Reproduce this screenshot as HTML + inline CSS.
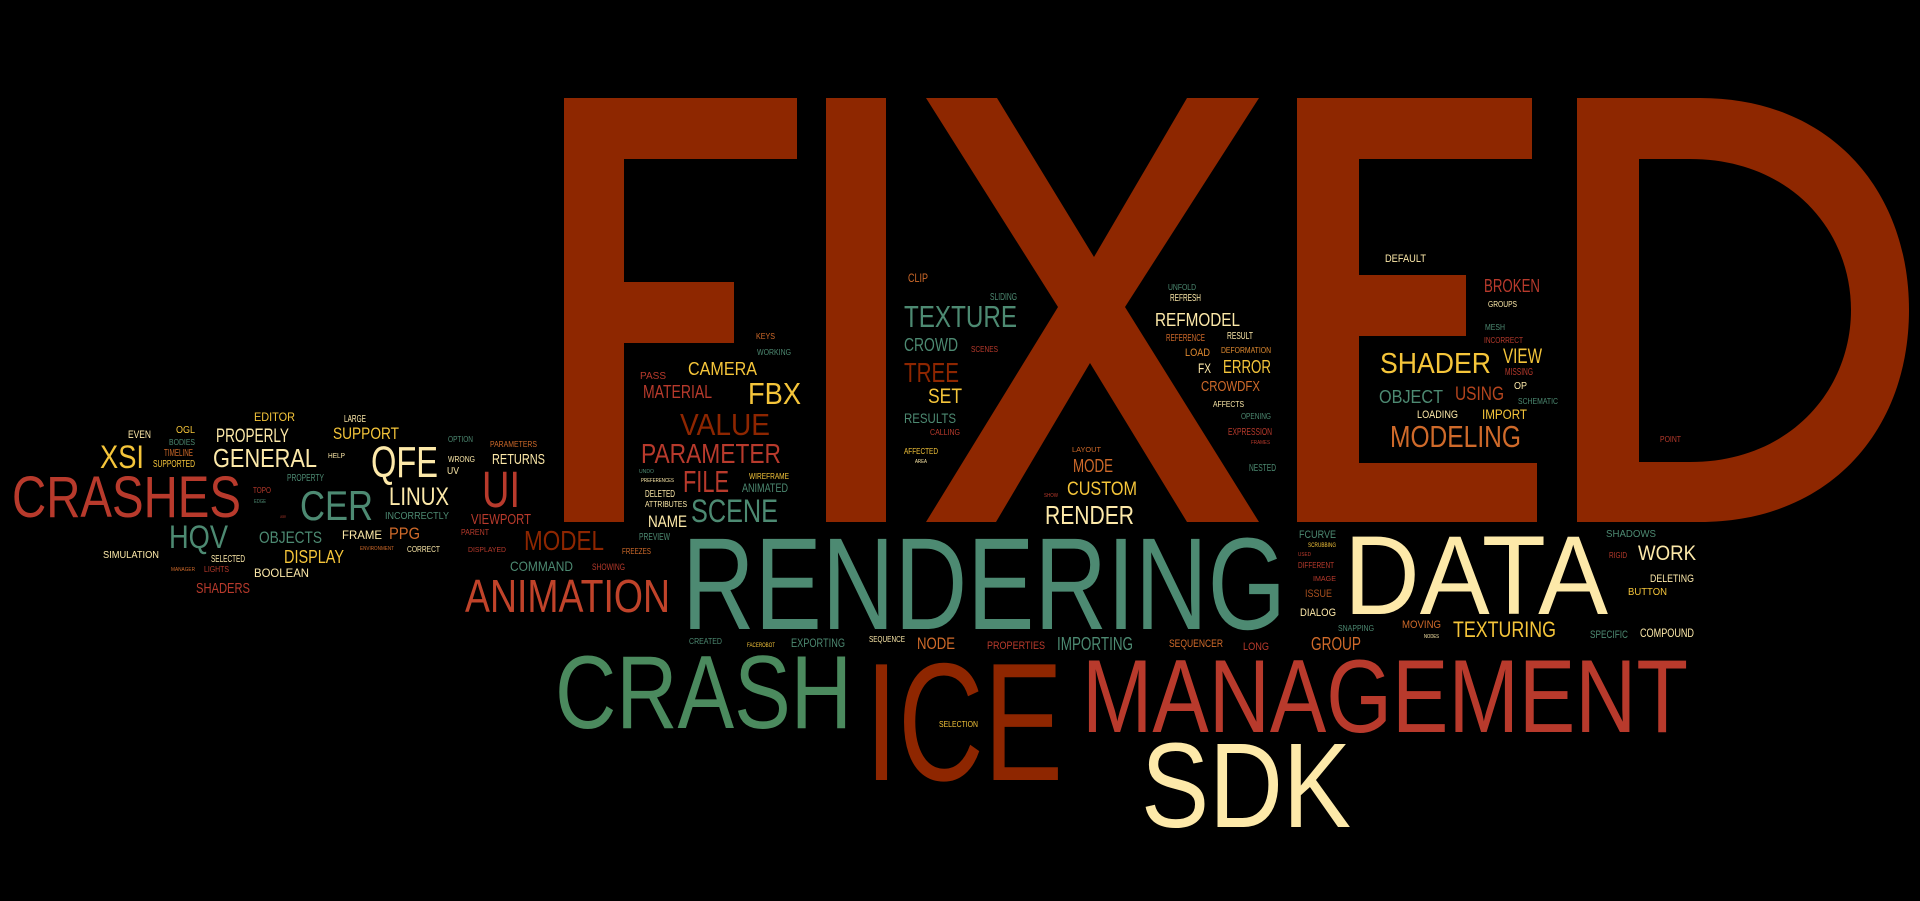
<!DOCTYPE html>
<html><head><meta charset="utf-8"><style>
html,body{margin:0;padding:0;background:#000;width:1920px;height:901px;overflow:hidden}
svg{display:block}
text{font-family:"Liberation Sans",sans-serif;}
</style></head><body>
<svg width="1920" height="901" viewBox="0 0 1920 901" xmlns="http://www.w3.org/2000/svg">
<rect width="1920" height="901" fill="#000"/>
<g fill="#8e2700">
<path d="M564,98 H797 V159 H624 V282 H734 V343 H624 V522 H564 Z"/>
<rect x="826" y="98" width="60" height="424"/>
<path d="M926,98 H997 L1094,257 L1187,98 H1259 L1125,307 L1259,522 H1187 L1090,363 L996,522 H926 L1058,307 Z"/>
<path d="M1297,98 H1532 V159 H1359 V275 H1466 V336 H1359 V463 H1537 V522 H1297 Z"/>
<path fill-rule="evenodd" d="M1577,98 H1700 C1830,98 1909,190 1909,310 C1909,430 1830,522 1700,522 H1577 Z M1639,159 H1690 C1790,159 1851,230 1851,310 C1851,390 1790,462 1690,462 H1639 Z"/>
</g>
<g lengthAdjust="spacingAndGlyphs">
<text x="682" y="629" font-size="131" textLength="604" lengthAdjust="spacingAndGlyphs" fill="#4d8a72">RENDERING</text>
<text x="1344" y="614" font-size="112" textLength="264" lengthAdjust="spacingAndGlyphs" fill="#fde9a9">DATA</text>
<text x="555" y="728" font-size="104" textLength="297" lengthAdjust="spacingAndGlyphs" fill="#4b8a5e">CRASH</text>
<text x="865" y="780" font-size="168" textLength="198" lengthAdjust="spacingAndGlyphs" fill="#8e2600">ICE</text>
<text x="1082" y="732" font-size="104" textLength="606" lengthAdjust="spacingAndGlyphs" fill="#b83a2c">MANAGEMENT</text>
<text x="1141" y="827" font-size="121" textLength="210" lengthAdjust="spacingAndGlyphs" fill="#fde9a9">SDK</text>
<text x="465" y="612" font-size="46" textLength="205" lengthAdjust="spacingAndGlyphs" fill="#c0432a">ANIMATION</text>
<text x="524" y="550" font-size="28" textLength="80" lengthAdjust="spacingAndGlyphs" fill="#8e2600">MODEL</text>
<text x="510" y="571" font-size="14" textLength="63" lengthAdjust="spacingAndGlyphs" fill="#4d8a72">COMMAND</text>
<text x="592" y="570" font-size="9" textLength="33" lengthAdjust="spacingAndGlyphs" fill="#b83a2c">SHOWING</text>
<text x="622" y="554" font-size="8" textLength="29" lengthAdjust="spacingAndGlyphs" fill="#cf6a2a">FREEZES</text>
<text x="639" y="540" font-size="10" textLength="31" lengthAdjust="spacingAndGlyphs" fill="#4d8a72">PREVIEW</text>
<text x="689" y="644" font-size="8" textLength="33" lengthAdjust="spacingAndGlyphs" fill="#4d8a72">CREATED</text>
<text x="747" y="647" font-size="6" textLength="28" lengthAdjust="spacingAndGlyphs" fill="#f5c53a">FACEROBOT</text>
<text x="791" y="647" font-size="12" textLength="54" lengthAdjust="spacingAndGlyphs" fill="#4d8a72">EXPORTING</text>
<text x="869" y="642" font-size="8" textLength="36" lengthAdjust="spacingAndGlyphs" fill="#fde9a9">SEQUENCE</text>
<text x="917" y="649" font-size="17" textLength="38" lengthAdjust="spacingAndGlyphs" fill="#cf6a2a">NODE</text>
<text x="987" y="649" font-size="11" textLength="58" lengthAdjust="spacingAndGlyphs" fill="#b83a2c">PROPERTIES</text>
<text x="1057" y="650" font-size="18" textLength="76" lengthAdjust="spacingAndGlyphs" fill="#4d8a72">IMPORTING</text>
<text x="1169" y="647" font-size="11" textLength="54" lengthAdjust="spacingAndGlyphs" fill="#cf6a2a">SEQUENCER</text>
<text x="1243" y="650" font-size="11" textLength="26" lengthAdjust="spacingAndGlyphs" fill="#b83a2c">LONG</text>
<text x="1311" y="650" font-size="18" textLength="50" lengthAdjust="spacingAndGlyphs" fill="#cf6a2a">GROUP</text>
<text x="1338" y="631" font-size="8" textLength="36" lengthAdjust="spacingAndGlyphs" fill="#4d8a72">SNAPPING</text>
<text x="1402" y="628" font-size="11" textLength="39" lengthAdjust="spacingAndGlyphs" fill="#cf6a2a">MOVING</text>
<text x="1424" y="638" font-size="5" textLength="15" lengthAdjust="spacingAndGlyphs" fill="#fde9a9">NODES</text>
<text x="1453" y="637" font-size="22" textLength="103" lengthAdjust="spacingAndGlyphs" fill="#f5c53a">TEXTURING</text>
<text x="1590" y="638" font-size="11" textLength="38" lengthAdjust="spacingAndGlyphs" fill="#4d8a72">SPECIFIC</text>
<text x="1640" y="637" font-size="12" textLength="54" lengthAdjust="spacingAndGlyphs" fill="#fde9a9">COMPOUND</text>
<text x="939" y="727" font-size="8" textLength="39" lengthAdjust="spacingAndGlyphs" fill="#f5c53a">SELECTION</text>
<text x="1299" y="538" font-size="11" textLength="37" lengthAdjust="spacingAndGlyphs" fill="#4d8a72">FCURVE</text>
<text x="1308" y="547" font-size="6" textLength="28" lengthAdjust="spacingAndGlyphs" fill="#f5c53a">SCRUBBING</text>
<text x="1298" y="556" font-size="5" textLength="13" lengthAdjust="spacingAndGlyphs" fill="#b83a2c">USED</text>
<text x="1298" y="568" font-size="8" textLength="36" lengthAdjust="spacingAndGlyphs" fill="#b83a2c">DIFFERENT</text>
<text x="1313" y="581" font-size="7" textLength="23" lengthAdjust="spacingAndGlyphs" fill="#b83a2c">IMAGE</text>
<text x="1305" y="597" font-size="11" textLength="27" lengthAdjust="spacingAndGlyphs" fill="#a8501e">ISSUE</text>
<text x="1300" y="616" font-size="11" textLength="36" lengthAdjust="spacingAndGlyphs" fill="#fde9a9">DIALOG</text>
<text x="1606" y="537" font-size="10" textLength="50" lengthAdjust="spacingAndGlyphs" fill="#4d8a72">SHADOWS</text>
<text x="1609" y="558" font-size="8" textLength="18" lengthAdjust="spacingAndGlyphs" fill="#b83a2c">RIGID</text>
<text x="1638" y="560" font-size="21" textLength="58" lengthAdjust="spacingAndGlyphs" fill="#fde9a9">WORK</text>
<text x="1650" y="582" font-size="11" textLength="44" lengthAdjust="spacingAndGlyphs" fill="#fde9a9">DELETING</text>
<text x="1628" y="595" font-size="10" textLength="39" lengthAdjust="spacingAndGlyphs" fill="#f5c53a">BUTTON</text>
<text x="1385" y="262" font-size="11" textLength="41" lengthAdjust="spacingAndGlyphs" fill="#fde9a9">DEFAULT</text>
<text x="1484" y="292" font-size="18" textLength="56" lengthAdjust="spacingAndGlyphs" fill="#b83a2c">BROKEN</text>
<text x="1488" y="307" font-size="8" textLength="29" lengthAdjust="spacingAndGlyphs" fill="#fde9a9">GROUPS</text>
<text x="1485" y="330" font-size="8" textLength="20" lengthAdjust="spacingAndGlyphs" fill="#4d8a72">MESH</text>
<text x="1484" y="343" font-size="8" textLength="39" lengthAdjust="spacingAndGlyphs" fill="#b83a2c">INCORRECT</text>
<text x="1380" y="373" font-size="29" textLength="111" lengthAdjust="spacingAndGlyphs" fill="#f5c53a">SHADER</text>
<text x="1503" y="363" font-size="21" textLength="39" lengthAdjust="spacingAndGlyphs" fill="#f5c53a">VIEW</text>
<text x="1505" y="375" font-size="10" textLength="28" lengthAdjust="spacingAndGlyphs" fill="#b83a2c">MISSING</text>
<text x="1379" y="403" font-size="18" textLength="64" lengthAdjust="spacingAndGlyphs" fill="#4d8a72">OBJECT</text>
<text x="1455" y="400" font-size="19" textLength="49" lengthAdjust="spacingAndGlyphs" fill="#b5451e">USING</text>
<text x="1514" y="389" font-size="10" textLength="13" lengthAdjust="spacingAndGlyphs" fill="#fde9a9">OP</text>
<text x="1518" y="404" font-size="8" textLength="40" lengthAdjust="spacingAndGlyphs" fill="#4d8a72">SCHEMATIC</text>
<text x="1417" y="418" font-size="11" textLength="41" lengthAdjust="spacingAndGlyphs" fill="#fde9a9">LOADING</text>
<text x="1482" y="419" font-size="14" textLength="45" lengthAdjust="spacingAndGlyphs" fill="#f5c53a">IMPORT</text>
<text x="1390" y="447" font-size="31" textLength="131" lengthAdjust="spacingAndGlyphs" fill="#cf6a2a">MODELING</text>
<text x="1660" y="442" font-size="8" textLength="21" lengthAdjust="spacingAndGlyphs" fill="#b83a2c">POINT</text>
<text x="1168" y="290" font-size="8" textLength="28" lengthAdjust="spacingAndGlyphs" fill="#4d8a72">UNFOLD</text>
<text x="1170" y="301" font-size="10" textLength="31" lengthAdjust="spacingAndGlyphs" fill="#fde9a9">REFRESH</text>
<text x="1155" y="326" font-size="18" textLength="85" lengthAdjust="spacingAndGlyphs" fill="#fde9a9">REFMODEL</text>
<text x="1166" y="341" font-size="10" textLength="39" lengthAdjust="spacingAndGlyphs" fill="#cf6a2a">REFERENCE</text>
<text x="1227" y="339" font-size="10" textLength="26" lengthAdjust="spacingAndGlyphs" fill="#fde9a9">RESULT</text>
<text x="1185" y="356" font-size="11" textLength="25" lengthAdjust="spacingAndGlyphs" fill="#e08a30">LOAD</text>
<text x="1221" y="353" font-size="8" textLength="50" lengthAdjust="spacingAndGlyphs" fill="#e08a30">DEFORMATION</text>
<text x="1198" y="373" font-size="14" textLength="13" lengthAdjust="spacingAndGlyphs" fill="#fde9a9">FX</text>
<text x="1223" y="373" font-size="18" textLength="48" lengthAdjust="spacingAndGlyphs" fill="#f5c53a">ERROR</text>
<text x="1201" y="391" font-size="15" textLength="59" lengthAdjust="spacingAndGlyphs" fill="#cf6a2a">CROWDFX</text>
<text x="1213" y="407" font-size="8" textLength="31" lengthAdjust="spacingAndGlyphs" fill="#fde9a9">AFFECTS</text>
<text x="1241" y="419" font-size="8" textLength="30" lengthAdjust="spacingAndGlyphs" fill="#4d8a72">OPENING</text>
<text x="1228" y="435" font-size="10" textLength="44" lengthAdjust="spacingAndGlyphs" fill="#b83a2c">EXPRESSION</text>
<text x="1251" y="444" font-size="5" textLength="19" lengthAdjust="spacingAndGlyphs" fill="#b83a2c">FRAMES</text>
<text x="1249" y="471" font-size="10" textLength="27" lengthAdjust="spacingAndGlyphs" fill="#4d8a72">NESTED</text>
<text x="908" y="282" font-size="12" textLength="20" lengthAdjust="spacingAndGlyphs" fill="#cf6a2a">CLIP</text>
<text x="990" y="300" font-size="10" textLength="27" lengthAdjust="spacingAndGlyphs" fill="#4d8a72">SLIDING</text>
<text x="904" y="327" font-size="31" textLength="113" lengthAdjust="spacingAndGlyphs" fill="#4d8a72">TEXTURE</text>
<text x="904" y="351" font-size="18" textLength="54" lengthAdjust="spacingAndGlyphs" fill="#4d8a72">CROWD</text>
<text x="971" y="352" font-size="8" textLength="27" lengthAdjust="spacingAndGlyphs" fill="#b83a2c">SCENES</text>
<text x="904" y="382" font-size="28" textLength="55" lengthAdjust="spacingAndGlyphs" fill="#8e2600">TREE</text>
<text x="928" y="403" font-size="21" textLength="34" lengthAdjust="spacingAndGlyphs" fill="#f5c53a">SET</text>
<text x="904" y="423" font-size="14" textLength="52" lengthAdjust="spacingAndGlyphs" fill="#4d8a72">RESULTS</text>
<text x="930" y="435" font-size="8" textLength="30" lengthAdjust="spacingAndGlyphs" fill="#b83a2c">CALLING</text>
<text x="904" y="454" font-size="8" textLength="34" lengthAdjust="spacingAndGlyphs" fill="#f5c53a">AFFECTED</text>
<text x="915" y="463" font-size="5" textLength="12" lengthAdjust="spacingAndGlyphs" fill="#fde9a9">AREA</text>
<text x="756" y="339" font-size="8" textLength="19" lengthAdjust="spacingAndGlyphs" fill="#cf6a2a">KEYS</text>
<text x="757" y="355" font-size="8" textLength="34" lengthAdjust="spacingAndGlyphs" fill="#4d8a72">WORKING</text>
<text x="688" y="375" font-size="18" textLength="69" lengthAdjust="spacingAndGlyphs" fill="#f5c53a">CAMERA</text>
<text x="640" y="379" font-size="10" textLength="26" lengthAdjust="spacingAndGlyphs" fill="#b83a2c">PASS</text>
<text x="643" y="398" font-size="18" textLength="69" lengthAdjust="spacingAndGlyphs" fill="#b83a2c">MATERIAL</text>
<text x="748" y="404" font-size="31" textLength="53" lengthAdjust="spacingAndGlyphs" fill="#f5c53a">FBX</text>
<text x="680" y="435" font-size="31" textLength="90" lengthAdjust="spacingAndGlyphs" fill="#8e2600">VALUE</text>
<text x="641" y="463" font-size="28" textLength="140" lengthAdjust="spacingAndGlyphs" fill="#b83a2c">PARAMETER</text>
<text x="639" y="473" font-size="5" textLength="15" lengthAdjust="spacingAndGlyphs" fill="#4d8a72">UNDO</text>
<text x="641" y="482" font-size="5" textLength="33" lengthAdjust="spacingAndGlyphs" fill="#fde9a9">PREFERENCES</text>
<text x="683" y="492" font-size="31" textLength="46" lengthAdjust="spacingAndGlyphs" fill="#b83a2c">FILE</text>
<text x="749" y="479" font-size="8" textLength="40" lengthAdjust="spacingAndGlyphs" fill="#f5c53a">WIREFRAME</text>
<text x="742" y="492" font-size="12" textLength="46" lengthAdjust="spacingAndGlyphs" fill="#4d8a72">ANIMATED</text>
<text x="645" y="497" font-size="10" textLength="30" lengthAdjust="spacingAndGlyphs" fill="#fde9a9">DELETED</text>
<text x="645" y="507" font-size="8" textLength="42" lengthAdjust="spacingAndGlyphs" fill="#fde9a9">ATTRIBUTES</text>
<text x="691" y="522" font-size="32" textLength="87" lengthAdjust="spacingAndGlyphs" fill="#4d8a72">SCENE</text>
<text x="648" y="527" font-size="17" textLength="39" lengthAdjust="spacingAndGlyphs" fill="#fde9a9">NAME</text>
<text x="1072" y="452" font-size="7" textLength="29" lengthAdjust="spacingAndGlyphs" fill="#cf6a2a">LAYOUT</text>
<text x="1073" y="472" font-size="18" textLength="40" lengthAdjust="spacingAndGlyphs" fill="#cf6a2a">MODE</text>
<text x="1044" y="497" font-size="5" textLength="14" lengthAdjust="spacingAndGlyphs" fill="#b83a2c">SHOW</text>
<text x="1067" y="495" font-size="19" textLength="70" lengthAdjust="spacingAndGlyphs" fill="#f5c53a">CUSTOM</text>
<text x="1045" y="524" font-size="26" textLength="89" lengthAdjust="spacingAndGlyphs" fill="#fde9a9">RENDER</text>
<text x="254" y="421" font-size="12" textLength="41" lengthAdjust="spacingAndGlyphs" fill="#f5c53a">EDITOR</text>
<text x="344" y="422" font-size="10" textLength="22" lengthAdjust="spacingAndGlyphs" fill="#fde9a9">LARGE</text>
<text x="128" y="438" font-size="11" textLength="23" lengthAdjust="spacingAndGlyphs" fill="#fde9a9">EVEN</text>
<text x="176" y="433" font-size="10" textLength="19" lengthAdjust="spacingAndGlyphs" fill="#f5c53a">OGL</text>
<text x="216" y="442" font-size="19" textLength="73" lengthAdjust="spacingAndGlyphs" fill="#fde9a9">PROPERLY</text>
<text x="333" y="439" font-size="17" textLength="66" lengthAdjust="spacingAndGlyphs" fill="#f5c53a">SUPPORT</text>
<text x="169" y="445" font-size="8" textLength="26" lengthAdjust="spacingAndGlyphs" fill="#4d8a72">BODIES</text>
<text x="100" y="468" font-size="32" textLength="44" lengthAdjust="spacingAndGlyphs" fill="#f5c53a">XSI</text>
<text x="164" y="456" font-size="10" textLength="29" lengthAdjust="spacingAndGlyphs" fill="#cf6a2a">TIMELINE</text>
<text x="153" y="467" font-size="10" textLength="42" lengthAdjust="spacingAndGlyphs" fill="#f5c53a">SUPPORTED</text>
<text x="213" y="467" font-size="26" textLength="104" lengthAdjust="spacingAndGlyphs" fill="#fde9a9">GENERAL</text>
<text x="328" y="458" font-size="7" textLength="17" lengthAdjust="spacingAndGlyphs" fill="#fde9a9">HELP</text>
<text x="371" y="477" font-size="44" textLength="67" lengthAdjust="spacingAndGlyphs" fill="#fde9a9">QFE</text>
<text x="448" y="442" font-size="8" textLength="25" lengthAdjust="spacingAndGlyphs" fill="#4d8a72">OPTION</text>
<text x="490" y="447" font-size="8" textLength="47" lengthAdjust="spacingAndGlyphs" fill="#cf6a2a">PARAMETERS</text>
<text x="448" y="462" font-size="8" textLength="27" lengthAdjust="spacingAndGlyphs" fill="#fde9a9">WRONG</text>
<text x="492" y="464" font-size="15" textLength="53" lengthAdjust="spacingAndGlyphs" fill="#fde9a9">RETURNS</text>
<text x="447" y="474" font-size="10" textLength="12" lengthAdjust="spacingAndGlyphs" fill="#fde9a9">UV</text>
<text x="482" y="507" font-size="51" textLength="38" lengthAdjust="spacingAndGlyphs" fill="#b83a2c">UI</text>
<text x="287" y="481" font-size="10" textLength="37" lengthAdjust="spacingAndGlyphs" fill="#4d8a72">PROPERTY</text>
<text x="12" y="517" font-size="58" textLength="229" lengthAdjust="spacingAndGlyphs" fill="#b83a2c">CRASHES</text>
<text x="253" y="493" font-size="8" textLength="18" lengthAdjust="spacingAndGlyphs" fill="#b83a2c">TOPO</text>
<text x="254" y="503" font-size="5" textLength="12" lengthAdjust="spacingAndGlyphs" fill="#4d8a72">EDGE</text>
<text x="300" y="520" font-size="42" textLength="73" lengthAdjust="spacingAndGlyphs" fill="#4d8a72">CER</text>
<text x="389" y="505" font-size="25" textLength="60" lengthAdjust="spacingAndGlyphs" fill="#fde9a9">LINUX</text>
<text x="385" y="519" font-size="10" textLength="64" lengthAdjust="spacingAndGlyphs" fill="#4d8a72">INCORRECTLY</text>
<text x="280" y="518" font-size="4" textLength="6" lengthAdjust="spacingAndGlyphs" fill="#b83a2c">USER</text>
<text x="471" y="524" font-size="15" textLength="60" lengthAdjust="spacingAndGlyphs" fill="#b83a2c">VIEWPORT</text>
<text x="169" y="548" font-size="32" textLength="59" lengthAdjust="spacingAndGlyphs" fill="#4d8a72">HQV</text>
<text x="259" y="543" font-size="17" textLength="63" lengthAdjust="spacingAndGlyphs" fill="#4d8a72">OBJECTS</text>
<text x="342" y="539" font-size="12" textLength="40" lengthAdjust="spacingAndGlyphs" fill="#fde9a9">FRAME</text>
<text x="389" y="539" font-size="17" textLength="31" lengthAdjust="spacingAndGlyphs" fill="#cf6a2a">PPG</text>
<text x="461" y="535" font-size="8" textLength="28" lengthAdjust="spacingAndGlyphs" fill="#b83a2c">PARENT</text>
<text x="360" y="550" font-size="5" textLength="34" lengthAdjust="spacingAndGlyphs" fill="#cf6a2a">ENVIRONMENT</text>
<text x="407" y="552" font-size="8" textLength="33" lengthAdjust="spacingAndGlyphs" fill="#fde9a9">CORRECT</text>
<text x="468" y="552" font-size="7" textLength="38" lengthAdjust="spacingAndGlyphs" fill="#b83a2c">DISPLAYED</text>
<text x="103" y="558" font-size="10" textLength="56" lengthAdjust="spacingAndGlyphs" fill="#fde9a9">SIMULATION</text>
<text x="211" y="562" font-size="10" textLength="34" lengthAdjust="spacingAndGlyphs" fill="#fde9a9">SELECTED</text>
<text x="284" y="563" font-size="18" textLength="60" lengthAdjust="spacingAndGlyphs" fill="#f5c53a">DISPLAY</text>
<text x="171" y="571" font-size="5" textLength="24" lengthAdjust="spacingAndGlyphs" fill="#cf6a2a">MANAGER</text>
<text x="204" y="572" font-size="8" textLength="25" lengthAdjust="spacingAndGlyphs" fill="#b83a2c">LIGHTS</text>
<text x="254" y="577" font-size="12" textLength="55" lengthAdjust="spacingAndGlyphs" fill="#fde9a9">BOOLEAN</text>
<text x="196" y="593" font-size="15" textLength="54" lengthAdjust="spacingAndGlyphs" fill="#b83a2c">SHADERS</text>
</g>
</svg>
</body></html>
